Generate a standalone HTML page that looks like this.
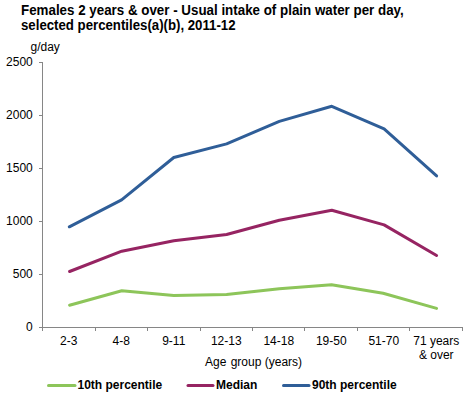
<!DOCTYPE html>
<html><head><meta charset="utf-8"><style>
html,body{margin:0;padding:0;background:#fff;width:472px;height:396px;overflow:hidden}
svg{display:block;font-family:"Liberation Sans",sans-serif;font-size:12px;fill:#000}
</style></head><body>
<svg width="472" height="396" viewBox="0 0 472 396" xmlns="http://www.w3.org/2000/svg">
<line x1="42.5" y1="62" x2="42.5" y2="331" stroke="#868686" stroke-width="1"/>
<line x1="42" y1="327.5" x2="463" y2="327.5" stroke="#868686" stroke-width="1"/>
<line x1="39" y1="62.5" x2="42" y2="62.5" stroke="#868686" stroke-width="1"/>
<line x1="39" y1="115.5" x2="42" y2="115.5" stroke="#868686" stroke-width="1"/>
<line x1="39" y1="168.5" x2="42" y2="168.5" stroke="#868686" stroke-width="1"/>
<line x1="39" y1="221.5" x2="42" y2="221.5" stroke="#868686" stroke-width="1"/>
<line x1="39" y1="274.5" x2="42" y2="274.5" stroke="#868686" stroke-width="1"/>
<line x1="39" y1="327.5" x2="42" y2="327.5" stroke="#868686" stroke-width="1"/>
<line x1="42.5" y1="327" x2="42.5" y2="331" stroke="#868686" stroke-width="1"/>
<line x1="95.5" y1="327" x2="95.5" y2="331" stroke="#868686" stroke-width="1"/>
<line x1="147.5" y1="327" x2="147.5" y2="331" stroke="#868686" stroke-width="1"/>
<line x1="200.5" y1="327" x2="200.5" y2="331" stroke="#868686" stroke-width="1"/>
<line x1="252.5" y1="327" x2="252.5" y2="331" stroke="#868686" stroke-width="1"/>
<line x1="304.5" y1="327" x2="304.5" y2="331" stroke="#868686" stroke-width="1"/>
<line x1="357.5" y1="327" x2="357.5" y2="331" stroke="#868686" stroke-width="1"/>
<line x1="409.5" y1="327" x2="409.5" y2="331" stroke="#868686" stroke-width="1"/>
<line x1="462.5" y1="327" x2="462.5" y2="331" stroke="#868686" stroke-width="1"/>
<text x="32.75" y="66" text-anchor="end">2500</text>
<text x="32.75" y="119" text-anchor="end">2000</text>
<text x="32.75" y="172" text-anchor="end">1500</text>
<text x="32.75" y="225" text-anchor="end">1000</text>
<text x="32.75" y="278" text-anchor="end">500</text>
<text x="32.75" y="331" text-anchor="end">0</text>
<text x="68.75" y="345" text-anchor="middle">2-3</text>
<text x="121.25" y="345" text-anchor="middle">4-8</text>
<text x="173.75" y="345" text-anchor="middle">9-11</text>
<text x="226.25" y="345" text-anchor="middle">12-13</text>
<text x="278.75" y="345" text-anchor="middle">14-18</text>
<text x="331.25" y="345" text-anchor="middle">19-50</text>
<text x="383.75" y="345" text-anchor="middle">51-70</text>
<text x="436.25" y="345" text-anchor="middle">71 years</text>
<text x="436.25" y="359" text-anchor="middle">&amp; over</text>
<text x="30.5" y="51">g/day</text>
<text x="205" y="366.25">Age<tspan dx="1"> group (years)</tspan></text>
<polyline points="69.55,305.20 121.80,290.70 173.80,295.60 226.55,294.60 279.30,288.85 331.55,284.85 383.10,293.20 436.60,308.40" fill="none" stroke="#8DC55A" stroke-width="3" stroke-linejoin="round" stroke-linecap="round"/>
<polyline points="69.55,271.50 121.80,251.20 173.80,240.70 226.60,234.50 279.30,220.20 331.80,210.20 384.10,224.85 436.60,255.50" fill="none" stroke="#962462" stroke-width="3" stroke-linejoin="round" stroke-linecap="round"/>
<polyline points="69.30,226.80 121.60,199.80 173.80,157.50 226.60,143.90 279.30,121.40 331.80,106.30 384.10,128.90 436.60,175.90" fill="none" stroke="#2F5E98" stroke-width="3" stroke-linejoin="round" stroke-linecap="round"/>
<line x1="48.5" y1="385.5" x2="75" y2="385.5" stroke="#8DC55A" stroke-width="3" stroke-linecap="round"/>
<text x="77.5" y="389" font-weight="bold">10th percentile</text>
<line x1="188" y1="385.5" x2="213" y2="385.5" stroke="#962462" stroke-width="3" stroke-linecap="round"/>
<text x="216" y="389" font-weight="bold">Median</text>
<line x1="283.5" y1="385.5" x2="309" y2="385.5" stroke="#2F5E98" stroke-width="3" stroke-linecap="round"/>
<text x="312" y="389" font-weight="bold">90th percentile</text>
<g transform="translate(21,14.75) scale(0.955,1)"><text x="0" y="0" font-weight="bold" font-size="14">Females 2 years &amp; over - Usual intake of plain water per day,</text></g>
<g transform="translate(21,29.75) scale(0.945,1)"><text x="0" y="0" font-weight="bold" font-size="14">selected percentiles(a)(b), 2011-12</text></g>
</svg>
</body></html>
